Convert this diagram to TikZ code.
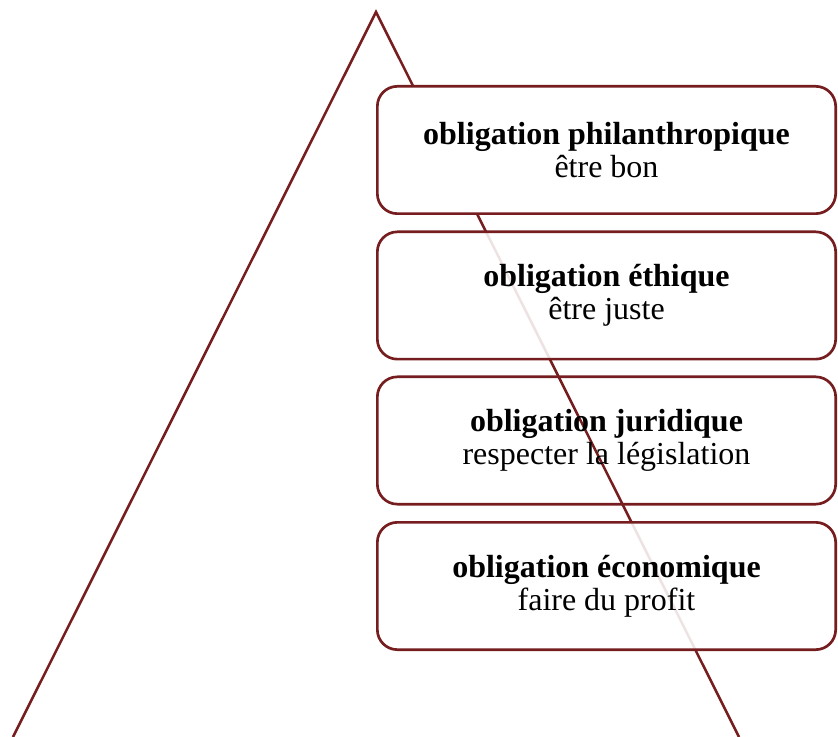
\documentclass[tikz,border=0pt]{standalone}
\usepackage{fontspec}
\setmainfont{Liberation Serif}
\definecolor{darkred}{RGB}{118,29,31}

\begin{document}
\begin{tikzpicture}[x=0.75pt, y=-0.75pt,
  every node/.style={outer sep=0pt},
  box/.style={draw=darkred, line width=2pt, rounded corners=15pt,
    minimum width=345.75pt-\pgflinewidth, minimum height=97.5pt-\pgflinewidth,
    align=center, font=\fontsize{24}{25}\selectfont}]
\useasboundingbox (0,0) rectangle (838,737);

\coordinate (top) at (376,12);
\coordinate (left) at (13,737);
\coordinate (right) at (739,737);
\draw[darkred, line width=1.9pt] (left) -- (top) -- (right);

\node[box, fill=white] (philo) at (606.5,150) {\textbf{obligation philanthropique}\\être bon};
\node[box, fill=white, fill opacity=0.88, text opacity=1] (ethic) at (606.5,295.5) {\textbf{obligation éthique}\\être juste};
\node[box] (legal) at (606.5,440.5) {\textbf{obligation juridique}\\respecter la législation};
\node[box, fill=white, fill opacity=0.88, text opacity=1] (eco) at (606.5,586) {\textbf{obligation économique}\\faire du profit};
\end{tikzpicture}
\end{document}
